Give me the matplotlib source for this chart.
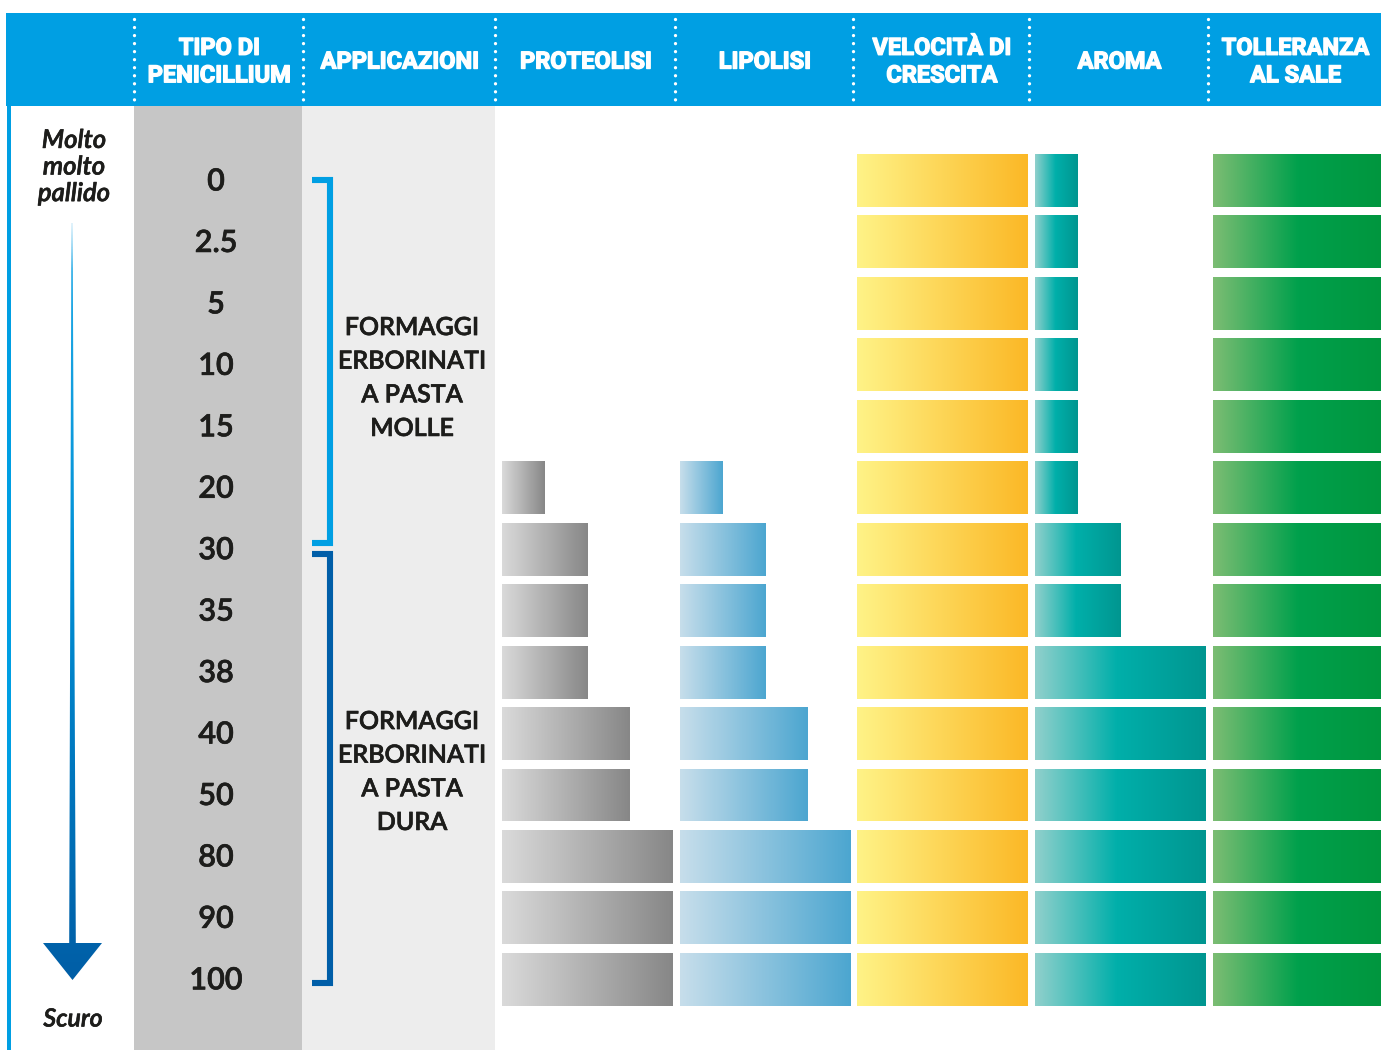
import numpy as np
import matplotlib
matplotlib.use('Agg')
import matplotlib.pyplot as plt
import matplotlib.patheffects as pe
from matplotlib.colors import LinearSegmentedColormap
from matplotlib.patches import Rectangle, Polygon
from matplotlib import font_manager

# --- data -------------------------------------------------------------
penicillium = ['0', '2.5', '5', '10', '15', '20', '30', '35', '38', '40',
               '50', '80', '90', '100']
headers = ['TIPO DI\nPENICILLIUM', 'APPLICAZIONI', 'PROTEOLISI', 'LIPOLISI',
           'VELOCITÀ DI\nCRESCITA', 'AROMA', 'TOLLERANZA\nAL SALE']
proteolisi = [0, 0, 0, 0, 0, 1, 2, 2, 2, 3, 3, 4, 4, 4]
lipolisi = [0, 0, 0, 0, 0, 1, 2, 2, 2, 3, 3, 4, 4, 4]
velocita = [4, 4, 4, 4, 4, 4, 4, 4, 4, 4, 4, 4, 4, 4]
aroma = [1, 1, 1, 1, 1, 1, 2, 2, 4, 4, 4, 4, 4, 4]
tolleranza = [4, 4, 4, 4, 4, 4, 4, 4, 4, 4, 4, 4, 4, 4]
applicazioni = ['FORMAGGI\nERBORINATI\nA PASTA\nMOLLE',
                'FORMAGGI\nERBORINATI\nA PASTA\nDURA']
scala = ['Molto\nmolto\npallido', 'Scuro']


def pick(names):
    for n in names:
        try:
            font_manager.findfont(font_manager.FontProperties(family=n),
                                  fallback_to_default=False)
            return n
        except Exception:
            pass
    return 'DejaVu Sans'


head_font = pick(['Liberation Sans Narrow'])
head_size = 22
if head_font == 'DejaVu Sans':
    head_font = pick(['Roboto', 'Lato'])
    head_size = 17
body_font = pick(['Lato', 'Open Sans', 'Noto Sans'])

DARK = '#1D1D1B'
BLUE = '#009FE3'
NAVY = '#005EA8'
bold_w = [pe.withStroke(linewidth=1.0, foreground='white')]
bold_d = [pe.withStroke(linewidth=0.45, foreground=DARK)]

# --- layout (pixel space) ---------------------------------------------
W, H = 1381, 1050
row0, pitch, bar_h = 180.5, 61.45, 53
unit = 42.6
seps = [134, 303, 495, 675, 853, 1029, 1208, 1381]
bar_x0 = [502, 680, 857, 1035, 1213]

fig = plt.figure(figsize=(W / 100, H / 100), dpi=100)
ax = fig.add_axes([0, 0, 1, 1])
ax.set_xlim(0, W)
ax.set_ylim(H, 0)
ax.set_autoscale_on(False)
ax.axis('off')

rows = row0 + pitch * np.arange(len(penicillium))

# backgrounds
ax.add_patch(Rectangle((6, 13), W - 6, 93, color=BLUE, lw=0))
ax.add_patch(Rectangle((7.5, 106), 4, H - 106, color=BLUE, lw=0))
ax.add_patch(Rectangle((134, 106), 168, H - 106, color='#C6C6C6', lw=0))
ax.add_patch(Rectangle((302, 106), 193, H - 106, color='#EDEDED', lw=0))

# header
for x in seps[:-1]:
    ax.plot([x, x], [19, 100], color='white', lw=2.4,
            linestyle=(0, (0.01, 2.4)), dash_capstyle='round')
centers = [(a + b) / 2 for a, b in zip(seps[:-1], seps[1:])]
for cx, lab in zip(centers, headers):
    ax.text(cx + 1, 62, lab, color='white', fontsize=head_size, fontweight='bold',
            family=head_font, ha='center', va='center', linespacing=1.25,
            path_effects=bold_w)

# penicillium labels
for y, lab in zip(rows, penicillium):
    ax.text(216, y + 1, lab, color=DARK, fontsize=22, family=body_font,
            fontweight='semibold', ha='center', va='center', path_effects=bold_d)

# applicazioni brackets and text
brackets = [(177, 546, BLUE, 378), (551, 986, NAVY, 772)]
for (top, bot, col, ty), lab in zip(brackets, applicazioni):
    ax.plot([312, 330, 330, 312], [top + 3, top + 3, bot - 3, bot - 3],
            color=col, lw=4.4, solid_joinstyle='miter', solid_capstyle='butt')
    ax.text(412, ty, lab, color=DARK, fontsize=18, family=body_font,
            fontweight='semibold', ha='center', va='center', linespacing=1.56,
            path_effects=bold_d)

# gradient bars
cmaps = [
    LinearSegmentedColormap.from_list('g', ['#DADADA', '#878787']),
    LinearSegmentedColormap.from_list('b', ['#C7DEEB', '#4CA6D0']),
    LinearSegmentedColormap.from_list('y', ['#FFF387', '#FBB826']),
    LinearSegmentedColormap.from_list('t', [(0, '#91D0CC'), (0.48, '#00AFAA'),
                                             (1, '#009690')]),
    LinearSegmentedColormap.from_list('v', [(0, '#7CBD73'), (0.5, '#00A04C'),
                                             (1, '#00963E')]),
]
grad = np.linspace(0, 1, 256).reshape(1, -1)
for x0, vals, cm in zip(bar_x0, [proteolisi, lipolisi, velocita, aroma, tolleranza], cmaps):
    bars = ax.barh(rows, np.array(vals) * unit, left=x0, height=bar_h,
                   color='none', lw=0)
    for b in bars:
        if b.get_width() <= 0:
            continue
        bx, by = b.get_x(), b.get_y()
        im = ax.imshow(grad, cmap=cm, aspect='auto', interpolation='bilinear',
                       extent=(bx, bx + b.get_width(), by + bar_h, by))
        im.set_clip_path(b)

# scale arrow
arrow = Polygon([(71.4, 223), (72.6, 223), (75.8, 943), (102, 943),
                 (72.5, 980), (43, 943), (69.2, 943)], closed=True,
                facecolor='none', lw=0)
ax.add_patch(arrow)
acm = LinearSegmentedColormap.from_list('a', [(0, '#CDEBFA'), (0.06, '#20A9E6'),
                                               (0.45, '#0090D6'), (1, '#005EA6')])
im = ax.imshow(np.linspace(0, 1, 256).reshape(-1, 1), cmap=acm, aspect='auto',
               extent=(43, 102, 980, 223))
im.set_clip_path(arrow)

ax.text(74, 167, scala[0], color=DARK, fontsize=18.5, style='italic',
        fontweight='semibold', family=body_font, ha='center', va='center',
        linespacing=1.08, path_effects=bold_d)
ax.text(73, 1019, scala[1], color=DARK, fontsize=18, style='italic',
        fontweight='semibold', family=body_font, ha='center', va='center',
        path_effects=bold_d)

fig.savefig('out.png', dpi=100)
